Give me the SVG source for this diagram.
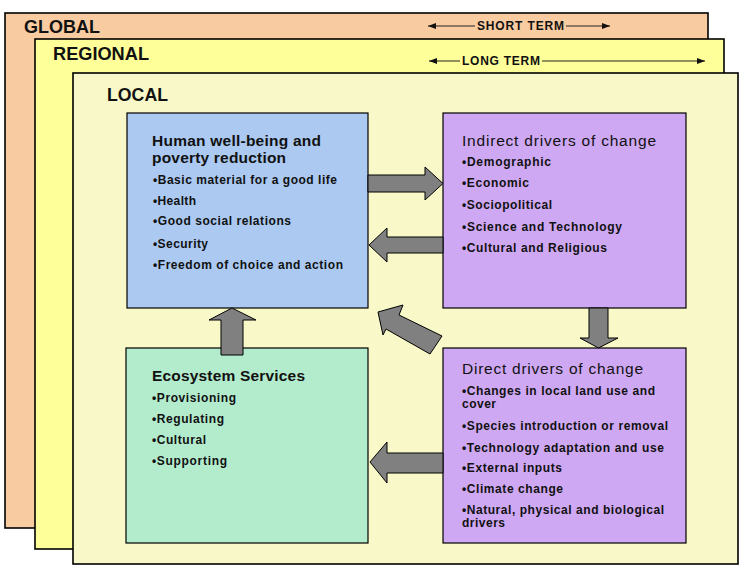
<svg xmlns="http://www.w3.org/2000/svg" width="744" height="578" viewBox="0 0 744 578">
<style>
.layer{stroke:#000;stroke-width:1.6}
.box{stroke:#000;stroke-width:1.2}
.arr{fill:#808080;stroke:#000;stroke-width:1;stroke-linejoin:miter}
.lbl{font-family:"Liberation Sans",Arial,sans-serif;font-size:18px;font-weight:bold;fill:#111}
.term{font-family:"Liberation Sans",Arial,sans-serif;font-size:12px;font-weight:bold;fill:#111}
.tl{font-family:"Liberation Sans",Arial,sans-serif;font-size:15.5px;fill:#111}
.tb{font-family:"Liberation Sans",Arial,sans-serif;font-size:15.5px;font-weight:bold;fill:#111}
.it{font-family:"Liberation Sans",Arial,sans-serif;font-size:12px;font-weight:bold;fill:#111}
.tline{stroke:#222;stroke-width:1;fill:none}
</style>
<defs>
<marker id="ah" viewBox="0 0 8 6" refX="8" refY="3" markerWidth="8" markerHeight="6" markerUnits="userSpaceOnUse" orient="auto-start-reverse">
<path d="M0,0 L8,3 L0,6 Z" fill="#111"/>
</marker>
</defs>
<rect width="744" height="578" fill="#fff"/>
<g id="global">
<rect class="layer" x="5" y="13" width="703" height="515" fill="#F8CBA1"/>
<text class="lbl" x="24" y="33" textLength="76" lengthAdjust="spacingAndGlyphs">GLOBAL</text>
</g>
<g id="regional">
<rect class="layer" x="35" y="39" width="689" height="510" fill="#FFFF99"/>
<text class="lbl" x="53" y="60" textLength="96" lengthAdjust="spacingAndGlyphs">REGIONAL</text>
</g>
<g id="local">
<rect class="layer" x="73" y="73" width="665" height="491" fill="#F8F8C8"/>
<text class="lbl" x="107" y="101" textLength="61" lengthAdjust="spacingAndGlyphs">LOCAL</text>
</g>
<g id="short-term">
<line class="tline" x1="428" y1="26" x2="475" y2="26" marker-start="url(#ah)"/>
<line class="tline" x1="566" y1="26" x2="610" y2="26" marker-end="url(#ah)"/>
<text class="term" x="477" y="30" textLength="87" lengthAdjust="spacing">SHORT TERM</text>
</g>
<g id="long-term">
<line class="tline" x1="429" y1="61" x2="460" y2="61" marker-start="url(#ah)"/>
<line class="tline" x1="542" y1="61" x2="705" y2="61" marker-end="url(#ah)"/>
<text class="term" x="462" y="65" textLength="78" lengthAdjust="spacing">LONG TERM</text>
</g>
<g id="human-wellbeing">
<rect class="box" x="127" y="113" width="241" height="195" fill="#ABC9F1"/>
<text class="tb" x="152" y="146" textLength="169" lengthAdjust="spacing">Human well-being and</text>
<text class="tb" x="152" y="163" textLength="134" lengthAdjust="spacing">poverty reduction</text>
<text class="it" x="153" y="184" textLength="184" lengthAdjust="spacing">•Basic material for a good life</text>
<text class="it" x="153" y="205" textLength="43" lengthAdjust="spacing">•Health</text>
<text class="it" x="153" y="225" textLength="138" lengthAdjust="spacing">•Good social relations</text>
<text class="it" x="153" y="248" textLength="55" lengthAdjust="spacing">•Security</text>
<text class="it" x="153" y="269" textLength="190" lengthAdjust="spacing">•Freedom of choice and action</text>
</g>
<g id="indirect-drivers">
<rect class="box" x="443" y="113" width="243" height="195" fill="#CFA8F3"/>
<text class="tl" x="462" y="146" textLength="194" lengthAdjust="spacing">Indirect drivers of change</text>
<text class="it" x="462" y="166" textLength="89" lengthAdjust="spacing">•Demographic</text>
<text class="it" x="462" y="187" textLength="67" lengthAdjust="spacing">•Economic</text>
<text class="it" x="462" y="209" textLength="90" lengthAdjust="spacing">•Sociopolitical</text>
<text class="it" x="462" y="231" textLength="160" lengthAdjust="spacing">•Science and Technology</text>
<text class="it" x="462" y="252" textLength="145" lengthAdjust="spacing">•Cultural and Religious</text>
</g>
<g id="direct-drivers">
<rect class="box" x="443" y="348" width="243" height="195" fill="#CFA8F3"/>
<text class="tl" x="462" y="374" textLength="181" lengthAdjust="spacing">Direct drivers of change</text>
<text class="it" x="462" y="395" textLength="193" lengthAdjust="spacing">•Changes in local land use and</text>
<text class="it" x="462" y="408" textLength="34" lengthAdjust="spacing">cover</text>
<text class="it" x="462" y="430" textLength="206" lengthAdjust="spacing">•Species introduction or removal</text>
<text class="it" x="462" y="452" textLength="202" lengthAdjust="spacing">•Technology adaptation and use</text>
<text class="it" x="462" y="472" textLength="100" lengthAdjust="spacing">•External inputs</text>
<text class="it" x="462" y="493" textLength="101" lengthAdjust="spacing">•Climate change</text>
<text class="it" x="462" y="514" textLength="202" lengthAdjust="spacing">•Natural, physical and biological</text>
<text class="it" x="462" y="527" textLength="43" lengthAdjust="spacing">drivers</text>
</g>
<g id="ecosystem-services">
<rect class="box" x="126" y="348" width="242" height="195" fill="#B3EBCD"/>
<text class="tb" x="152" y="381" textLength="153" lengthAdjust="spacing">Ecosystem Services</text>
<text class="it" x="152" y="402" textLength="84" lengthAdjust="spacing">•Provisioning</text>
<text class="it" x="152" y="423" textLength="72" lengthAdjust="spacing">•Regulating</text>
<text class="it" x="152" y="444" textLength="54" lengthAdjust="spacing">•Cultural</text>
<text class="it" x="152" y="465" textLength="75" lengthAdjust="spacing">•Supporting</text>
</g>
<g id="connectors">
<polygon class="arr" points="368,175 425,175 425,167 443,183.5 425,200 425,192 368,192"/>
<polygon class="arr" points="443,237 387,237 387,228 369,245 387,262 387,253 443,253"/>
<polygon class="arr" points="589,308 608,308 608,338 618,338 598.5,348 580,338 589,338"/>
<polygon class="arr" points="221,355 243,355 243,320 256,320 232,308 209,320 221,320"/>
<polygon class="arr" points="443,453 387,453 387,442 370,462 387,483 387,473 443,473"/>
<polygon class="arr" points="378,312 403,305 399,315 442,336 430,354 386,329 383,335"/>
</g>
</svg>
